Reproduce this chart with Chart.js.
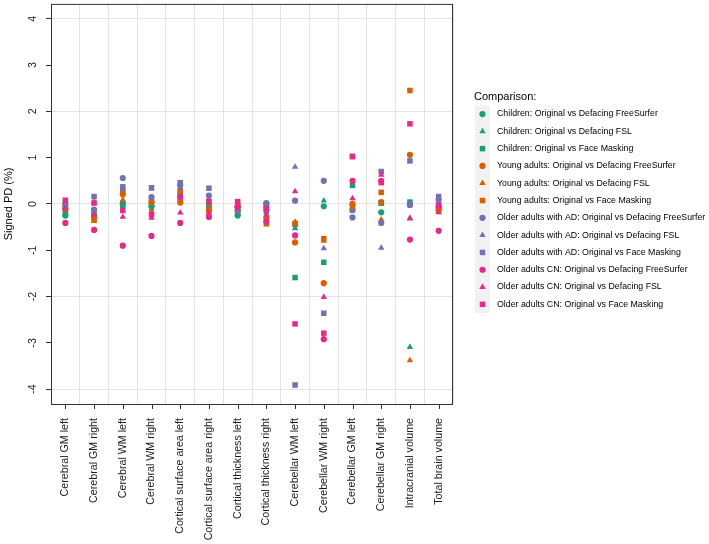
<!DOCTYPE html>
<html>
<head>
<meta charset="utf-8">
<script src="https://cdn.jsdelivr.net/npm/chart.js@4/dist/chart.umd.min.js"></script>
<style>
  html, body { margin: 0; padding: 0; background: #fff; }
  #wrap { width: 709px; height: 544px; position: relative; }
</style>
</head>
<body>
<div id="wrap"><canvas id="chart"></canvas></div>
<script>
const regions = [
  "Cerebral GM left", "Cerebral GM right", "Cerebral WM left", "Cerebral WM right",
  "Cortical surface area left", "Cortical surface area right",
  "Cortical thickness left", "Cortical thickness right",
  "Cerebellar WM left", "Cerebellar WM right", "Cerebellar GM left", "Cerebellar GM right",
  "Intracranial volume", "Total brain volume"
];
const yTicks = [-4, -3, -2, -1, 0, 1, 2, 3, 4];

const groups = ["Children", "Young adults", "Older adults with AD", "Older adults CN"];
const methods = ["Original vs Defacing FreeSurfer", "Original vs Defacing FSL", "Original vs Face Masking"];
const groupColors = ["#1B9E77", "#D95F02", "#7570B3", "#E7298A"];
const methodShapes = ["circle", "triangle", "rect"];

// signed percent difference per region
const childrenFreeSurfer = [-0.25, -0.25, 0.0, -0.05, 0.15, -0.05, -0.25, 0.0, -0.45, -0.05, -0.13, -0.18, -0.02, -0.05];
const childrenFSL        = [-0.2, -0.2, 0.08, -0.1, 0.2, -0.08, -0.2, -0.05, -0.53, 0.07, 0.0, 0.0, -3.09, -0.1];
const childrenMasking    = [-0.18, -0.15, -0.03, -0.02, 0.22, -0.02, -0.18, -0.08, -1.59, -1.26, 0.4, 0.02, 0.04, -0.08];
const youngFreeSurfer    = [-0.1, -0.3, 0.21, 0.04, 0.03, -0.15, -0.05, -0.3, -0.83, -1.71, 0.0, 0.04, 1.06, -0.12];
const youngFSL           = [-0.12, -0.37, 0.08, -0.16, 0.1, -0.1, -0.1, -0.35, -0.39, -0.8, -0.1, -0.34, -3.38, -0.15];
const youngMasking       = [-0.05, -0.33, 0.28, 0.08, 0.28, -0.12, -0.02, -0.43, -0.42, -0.75, -0.05, 0.25, 2.45, -0.1];
const adFreeSurfer       = [-0.02, -0.12, 0.56, 0.15, 0.4, 0.18, -0.15, 0.02, 0.07, 0.5, -0.29, -0.41, -0.02, 0.09];
const adFSL              = [-0.08, 0.05, 0.32, 0.33, 0.35, 0.12, -0.12, -0.12, 0.8, -0.96, -0.15, -0.95, -0.3, 0.05];
const adMasking          = [0.0, 0.16, 0.37, 0.35, 0.46, 0.34, -0.1, -0.16, -3.91, -2.36, 1.03, 0.7, 0.93, 0.16];
const cnFreeSurfer       = [-0.41, -0.56, -0.9, -0.69, -0.41, -0.28, -0.07, -0.38, -0.68, -2.92, 0.5, 0.5, -0.77, -0.58];
const cnFSL              = [-0.1, -0.23, -0.28, -0.3, -0.19, -0.2, -0.05, -0.23, 0.27, -2.01, 0.12, 0.63, -0.32, -0.18];
const cnMasking          = [0.08, 0.02, -0.14, -0.23, 0.15, 0.05, 0.05, -0.1, -2.59, -2.79, 1.02, 0.46, 1.73, -0.03];

const seriesValues = [
  childrenFreeSurfer, childrenFSL, childrenMasking,
  youngFreeSurfer, youngFSL, youngMasking,
  adFreeSurfer, adFSL, adMasking,
  cnFreeSurfer, cnFSL, cnMasking
];

const FONT = "'Liberation Sans', Arial, Helvetica, sans-serif";
const sizeFor = { circle: 3.1, triangle: 3.7, rect: 3.9 };

const datasets = seriesValues.map((vals, i) => {
  const g = Math.floor(i / 3), m = i % 3;
  return {
    label: groups[g] + ": " + methods[m],
    data: vals,
    showLine: false,
    pointStyle: methodShapes[m],
    pointRadius: sizeFor[methodShapes[m]],
    pointHoverRadius: sizeFor[methodShapes[m]],
    backgroundColor: groupColors[g],
    borderColor: groupColors[g],
    pointBorderWidth: 0,
    order: seriesValues.length - i
  };
});

function drawMarker(ctx, style, x, y, r, color) {
  ctx.fillStyle = color;
  ctx.beginPath();
  if (style === "circle") {
    ctx.arc(x, y, r, 0, Math.PI * 2);
  } else if (style === "triangle") {
    let a = 0;
    ctx.moveTo(x + Math.sin(a) * r, y - Math.cos(a) * r);
    a += Math.PI * 2 / 3;
    ctx.lineTo(x + Math.sin(a) * r, y - Math.cos(a) * r);
    a += Math.PI * 2 / 3;
    ctx.lineTo(x + Math.sin(a) * r, y - Math.cos(a) * r);
    ctx.closePath();
  } else {
    const s = Math.SQRT1_2 * r;
    ctx.rect(x - s, y - s, 2 * s, 2 * s);
  }
  ctx.fill();
}

// panel box, x tick marks at categories, and the side legend
const panelPlugin = {
  id: "panel",
  afterDraw(chart) {
    const { ctx, chartArea: a } = chart;
    const xs = chart.scales.x;
    ctx.save();
    ctx.strokeStyle = "#333";
    ctx.lineWidth = 1;
    ctx.strokeRect(a.left + 0.5, a.top + 0.5, a.right - a.left - 1, a.bottom - a.top);
    ctx.beginPath();
    regions.forEach((r, i) => {
      const px = Math.round(xs.getPixelForValue(i)) + 0.5;
      ctx.moveTo(px, a.bottom);
      ctx.lineTo(px, a.bottom + 5);
    });
    ctx.stroke();

    // legend
    const keyX = 475, keyW = 15, rowH = 17.3, top = 105.4;
    ctx.fillStyle = "#000";
    ctx.font = "11px " + FONT;
    ctx.textBaseline = "middle";
    ctx.textAlign = "left";
    ctx.fillText("Comparison:", 474, 97);
    ctx.fillStyle = "#f2f2f2";
    ctx.fillRect(keyX, top, keyW, rowH * chart.data.datasets.length);
    chart.data.datasets.forEach((ds, i) => {
      const cy = top + rowH * (i + 0.5);
      drawMarker(ctx, ds.pointStyle, keyX + keyW / 2, cy, ds.pointRadius, ds.backgroundColor);
      ctx.fillStyle = "#000";
      ctx.font = "8.8px " + FONT;
      ctx.fillText(ds.label, 497, cy);
    });
    ctx.restore();
  }
};

new Chart(document.getElementById("chart"), {
  type: "line",
  data: { labels: regions, datasets },
  options: {
    responsive: true,
    maintainAspectRatio: false,
    animation: false,
    layout: { padding: { top: 1, right: 256, left: 0, bottom: 0 } },
    plugins: { legend: { display: false }, tooltip: { enabled: false } },
    scales: {
      x: {
        type: "category",
        offset: true,
        afterFit: s => { s.height = 140; s.paddingLeft = 0; s.paddingRight = 0; },
        grid: { offset: true, color: "#e3e3e3", lineWidth: 1, drawTicks: false },
        border: { display: false },
        ticks: {
          autoSkip: false, minRotation: 90, maxRotation: 90, padding: 14,
          color: "#1a1a1a", font: { family: FONT, size: 10.7 }
        }
      },
      y: {
        min: -4.32, max: 4.32,
        afterFit: s => { s.width = 51; s.paddingTop = 0; s.paddingBottom = 0; },
        afterBuildTicks: s => { s.ticks = yTicks.map(v => ({ value: v })); },
        grid: {
          color: c => (c.tick && c.tick.value % 2 === 0) ? "#e3e3e3" : "rgba(0,0,0,0)",
          tickColor: "#333", tickLength: 5, lineWidth: 1
        },
        border: { display: false },
        ticks: {
          minRotation: 90, maxRotation: 90, crossAlign: "center", padding: 8,
          color: "#1a1a1a", font: { family: FONT, size: 10.7 }
        },
        title: {
          display: true, text: "Signed PD (%)", color: "#000",
          font: { family: FONT, size: 11 }, padding: { top: 2, bottom: 0 }
        }
      }
    }
  },
  plugins: [panelPlugin]
});
</script>
</body>
</html>
